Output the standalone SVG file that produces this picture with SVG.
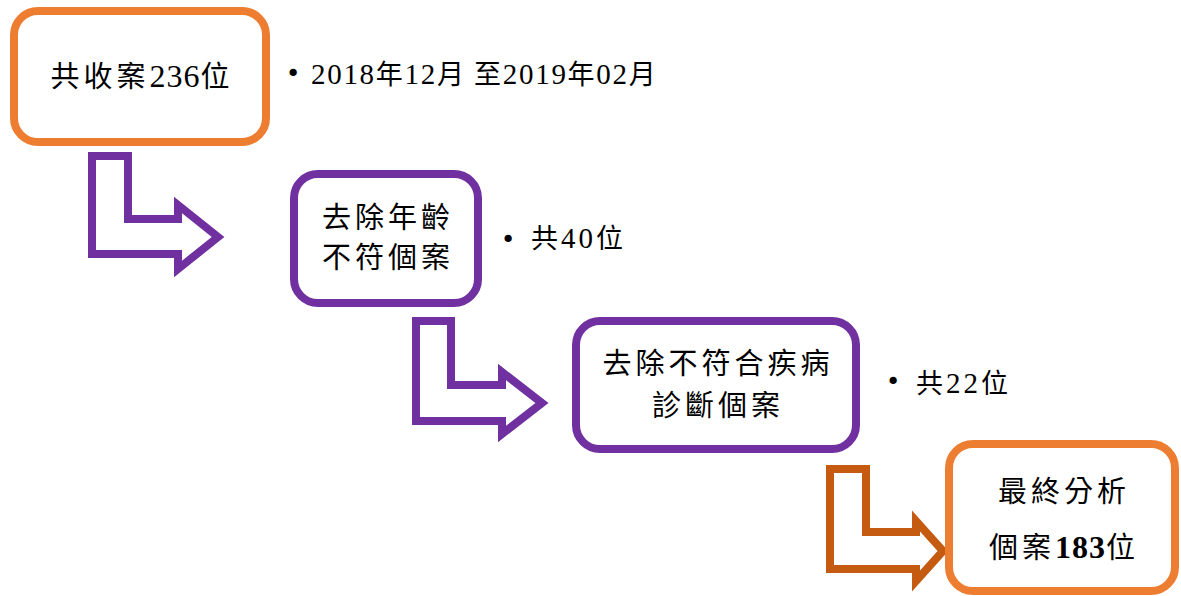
<svg xmlns="http://www.w3.org/2000/svg" width="1181" height="596" viewBox="0 0 1181 596">
<style>
.box{fill:#fff;stroke-width:8}
.org{stroke:#ED7D31}
.pur{stroke:#7030A0}
.arr{fill:#fff;stroke-width:8;stroke-linejoin:miter}
.t{font-family:"Liberation Serif","Noto Sans CJK TC",serif;font-size:29px;letter-spacing:4px;fill:#000;text-anchor:middle}
.s{font-family:"Liberation Serif","Noto Sans CJK TC",serif;font-size:27px;letter-spacing:1.7px;fill:#000}
.s2{letter-spacing:3px}
.n{font-size:32px;letter-spacing:1px}
.m{font-size:29px}
.b{font-weight:bold}
.dot{font-family:"DejaVu Sans",sans-serif;font-size:25px;fill:#000;text-anchor:middle}
</style>
<rect width="1181" height="596" fill="#fff"/>
<g id="connectors">
<polygon class="arr" stroke="#7030A0" points="92,156 128,156 128,219 178,219 178,205 218,237 178,269 178,254 92,254"/>
<polygon class="arr" stroke="#7030A0" points="416,321 451,321 451,385 502,385 502,372 542,403 502,434 502,421 416,421"/>
<polygon class="arr" stroke="#C55A11" points="830,469 866,469 866,532 916,532 916,521 943,551 916,581 916,569 830,569"/>
</g>
<g id="node1">
<rect class="box org" x="14" y="11" width="252" height="131" rx="24"/>
<text class="t" x="142" y="87">共收案<tspan class="n">236</tspan>位</text>
</g>
<g id="note1">
<text class="dot" x="293" y="82">•</text>
<text class="s" x="311" y="84"><tspan class="m">2018</tspan>年<tspan class="m">12</tspan>月 至<tspan class="m">2019</tspan>年<tspan class="m">02</tspan>月</text>
</g>
<g id="node2">
<rect class="box pur" x="294" y="174" width="184" height="129" rx="24"/>
<text class="t" x="388" y="228">去除年齡</text>
<text class="t" x="388" y="268">不符個案</text>
</g>
<g id="note2">
<text class="dot" x="508" y="248">•</text>
<text class="s s2" x="531" y="248">共<tspan class="m">40</tspan>位</text>
</g>
<g id="note3">
<text class="dot" x="893" y="390">•</text>
<text class="s s2" x="916" y="393">共<tspan class="m">22</tspan>位</text>
</g>
<g id="node3">
<rect class="box pur" x="576" y="321" width="280" height="128" rx="24"/>
<text class="t" x="718" y="374">去除不符合疾病</text>
<text class="t" x="718" y="416">診斷個案</text>
</g>
<g id="node4">
<rect class="box org" x="949" y="444" width="226" height="147" rx="24"/>
<text class="t" x="1064" y="502">最終分析</text>
<text class="t" x="1064" y="558">個案<tspan class="n b">183</tspan>位</text>
</g>
</svg>
